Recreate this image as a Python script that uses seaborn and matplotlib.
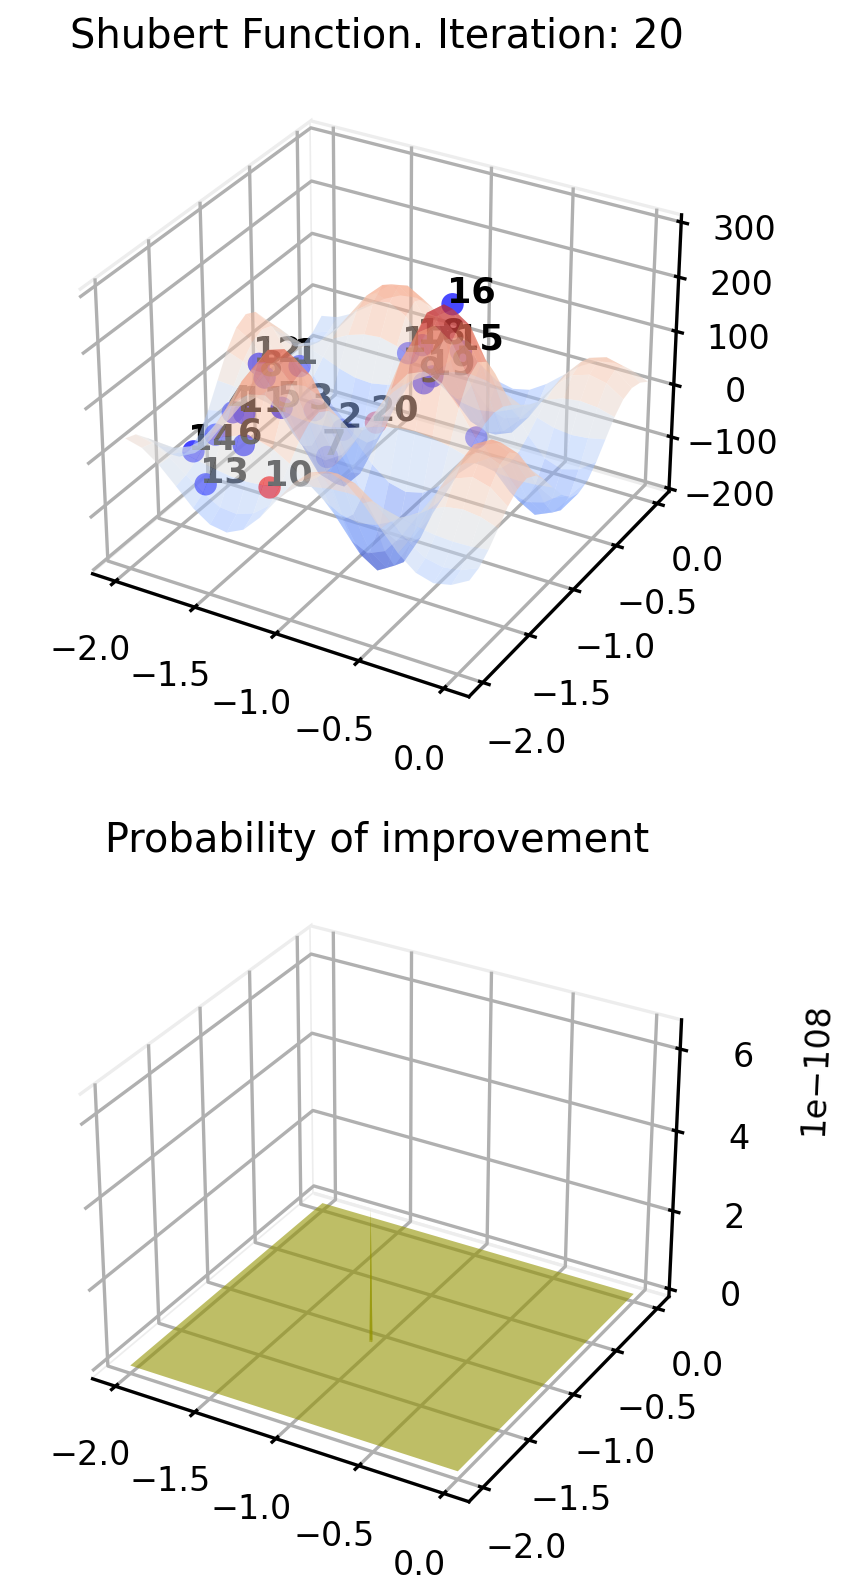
import numpy as np
import matplotlib
matplotlib.use('Agg')
import matplotlib.pyplot as plt
import seaborn as sns
from mpl_toolkits.mplot3d import Axes3D

# surface heights, one row per y, one column per x
grid_x = [-2.0, -1.897, -1.794, -1.691, -1.588, -1.485, -1.382, -1.279, -1.176, -1.073, -0.97,
          -0.867, -0.764, -0.661, -0.558, -0.455, -0.352, -0.249, -0.146, -0.043, 0.06]
grid_y = [-2.0, -1.9, -1.8, -1.7, -1.6, -1.5, -1.4, -1.3, -1.2, -1.1, -1.0,
          -0.9, -0.8, -0.7, -0.6, -0.5, -0.4, -0.3, -0.2, -0.1, 0.0]
heights = [
    [38, 30, 8, -22, -53, -74, -79, -64, -32, 9, 50, 79, 90, 80, 52, 16, -19, -44, -53, -46, -28],
    [30, 23, 6, -17, -41, -58, -61, -50, -25, 7, 39, 61, 70, 62, 40, 12, -15, -34, -41, -36, -22],
    [8, 6, 2, -5, -11, -16, -17, -14, -7, 2, 11, 17, 19, 17, 11, 3, -4, -9, -11, -10, -6],
    [-22, -17, -5, 13, 31, 43, 46, 37, 19, -5, -29, -46, -52, -46, -30, -9, 11, 26, 31, 27, 16],
    [-53, -41, -11, 31, 74, 103, 110, 89, 45, -13, -70, -110, -125, -111, -72, -22, 27, 61, 73, 64, 39],
    [-74, -58, -16, 43, 103, 144, 154, 125, 62, -18, -97, -154, -174, -155, -101, -31, 37, 85, 102, 89, 54],
    [-79, -61, -17, 46, 110, 154, 164, 133, 67, -19, -104, -164, -186, -165, -108, -33, 40, 91, 109, 95, 58],
    [-64, -50, -14, 37, 89, 125, 133, 108, 54, -16, -84, -133, -151, -134, -87, -27, 32, 74, 88, 77, 47],
    [-32, -25, -7, 19, 45, 62, 67, 54, 27, -8, -42, -67, -75, -67, -44, -14, 16, 37, 44, 38, 23],
    [9, 7, 2, -5, -13, -18, -19, -16, -8, 2, 12, 19, 22, 19, 13, 4, -5, -11, -13, -11, -7],
    [50, 39, 11, -29, -70, -97, -104, -84, -42, 12, 66, 104, 117, 104, 68, 21, -25, -58, -69, -60, -36],
    [79, 61, 17, -46, -110, -154, -164, -133, -67, 19, 104, 164, 186, 165, 108, 33, -40, -91, -109, -95, -58],
    [90, 70, 19, -52, -125, -174, -186, -151, -75, 22, 117, 186, 210, 187, 122, 38, -45, -103, -123, -107, -65],
    [80, 62, 17, -46, -111, -155, -165, -134, -67, 19, 104, 165, 187, 166, 108, 34, -40, -92, -110, -95, -58],
    [52, 40, 11, -30, -72, -101, -108, -87, -44, 13, 68, 108, 122, 108, 71, 22, -26, -60, -71, -62, -38],
    [16, 12, 3, -9, -22, -31, -33, -27, -14, 4, 21, 33, 38, 34, 22, 7, -8, -18, -22, -19, -12],
    [-19, -15, -4, 11, 27, 37, 40, 32, 16, -5, -25, -40, -45, -40, -26, -8, 10, 22, 26, 23, 14],
    [-44, -34, -9, 26, 61, 85, 91, 74, 37, -11, -58, -91, -103, -92, -60, -18, 22, 50, 60, 53, 32],
    [-53, -41, -11, 31, 73, 102, 109, 88, 44, -13, -69, -109, -123, -110, -71, -22, 26, 60, 72, 63, 38],
    [-46, -36, -10, 27, 64, 89, 95, 77, 38, -11, -60, -95, -107, -95, -62, -19, 23, 53, 63, 55, 33],
    [-28, -22, -6, 16, 39, 54, 58, 47, 23, -7, -36, -58, -65, -58, -38, -12, 14, 32, 38, 33, 20],
]

# sampled points, label '' where no number can be seen
point_labels = ['1', '2', '3', '4', '5', '6', '7', '8', '9', '10', '11', '12',
                '13', '14', '15', '16', '17', '18', '19', '20', '', '']
point_x = [-1.34, -1.24, -1.36, -1.61, -1.30, -1.45, -1.11, -1.42, -0.77, -1.22, -1.50,
           -1.46, -1.59, -1.72, -0.67, -0.74, -0.90, -0.82, -0.73, -1.01, -1.65, -0.50]
point_y = [-1.32, -1.05, -1.14, -1.56, -1.57, -1.71, -1.43, -1.54, -1.00, -1.83, -1.62,
           -1.53, -1.87, -1.78, -0.78, -0.75, -0.94, -0.93, -0.98, -1.09, -1.67, -0.91]
point_z = [125, -25, 15, 53, 90, 30, -5, 130, 95, -8, 70,
           150, -30, 5, 130, 205, 130, 150, 108, 15, 25, 5]
point_colors = ['b'] * 9 + ['r'] + ['b'] * 9 + ['r'] + ['b'] * 2

# acquisition panel, flat plane and one narrow spike
plane_x = [-2.0, 0.0]
plane_y = [-2.0, 0.0]
plane_z = [[0, 0], [0, 0]]
spike_x = [-1.019, -1.010, -1.001]
spike_y = [-1.154, -1.145, -1.136]
spike_z = [[0, 0, 0], [0, 3.3e-108, 0], [0, 0, 0]]

axis_ticks = [-2.0, -1.5, -1.0, -0.5, 0.0]
top_zticks = [-200, -100, 0, 100, 200, 300]
bottom_zticks = [0, 2e-108, 4e-108, 6e-108]

plt.rcParams['grid.linewidth'] = 1.0
plt.rcParams['axes.linewidth'] = 1.0
plt.rcParams['xtick.major.width'] = 1.0
plt.rcParams['ytick.major.width'] = 1.0

W, H = 854, 1594
fig = plt.figure(figsize=(W / 240, H / 240), dpi=240)
cmap = sns.color_palette('coolwarm', as_cmap=True)


def clean_panes(ax):
    for axis in (ax.xaxis, ax.yaxis, ax.zaxis):
        axis.set_pane_color((1, 1, 1, 1))
        axis.pane.set_edgecolor('#ededed')
    ax.set_xticks(axis_ticks)
    ax.set_yticks(axis_ticks)
    ax.set_xlim(-2.146, 0.146)
    ax.set_ylim(-2.146, 0.146)


# top panel
ax1 = fig.add_axes([42 / W, 1 - 739 / H, 670 / W, 670 / H], projection='3d')
X, Y = np.meshgrid(grid_x, grid_y)
ax1.plot_surface(X, Y, np.array(heights, dtype=float), cmap=cmap, vmin=-175, vmax=200,
                 alpha=0.5, linewidth=0)
ax1.scatter(point_x, point_y, point_z, c=point_colors, s=45, linewidths=0)
for px, py, pz, lab in zip(point_x, point_y, point_z, point_labels):
    ax1.text(px - 0.035, py, pz, lab, size=10.5, weight='bold', color='k')
clean_panes(ax1)
ax1.set_zticks(top_zticks)
ax1.set_zlim(-206, 313)
ax1.set_title('Shubert Function. Iteration: 20', fontsize=12, pad=6.6)

# bottom panel
ax2 = fig.add_axes([42 / W, 1 - 1544 / H, 670 / W, 670 / H], projection='3d')
X2, Y2 = np.meshgrid(plane_x, plane_y)
ax2.plot_surface(X2, Y2, np.array(plane_z, dtype=float), color='y', alpha=0.6, linewidth=0)
X3, Y3 = np.meshgrid(spike_x, spike_y)
ax2.plot_surface(X3, Y3, np.array(spike_z), color='y', alpha=0.6, linewidth=0)
clean_panes(ax2)
ax2.set_zticks(bottom_zticks)
ax2.set_zlim(-0.2e-108, 6.7e-108)
ax2.set_title('Probability of improvement', fontsize=12, pad=6.6)

fig.savefig('out.png', dpi=240)
